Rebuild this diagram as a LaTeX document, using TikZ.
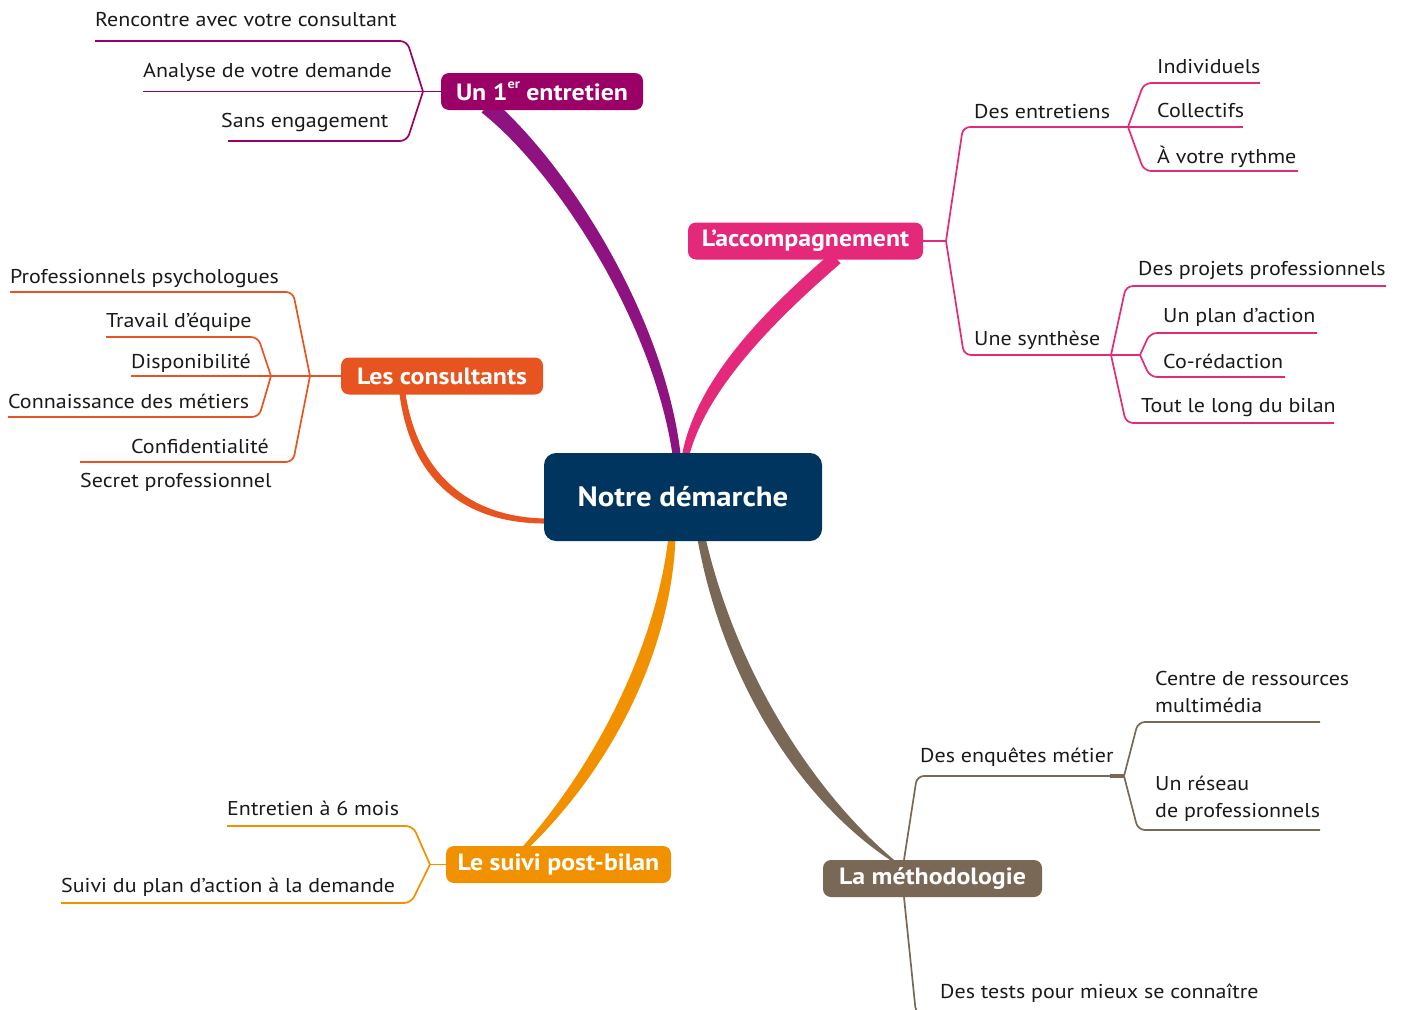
\documentclass[tikz,border=0pt]{standalone}
\usepackage{fontspec}
\setmainfont{PT Sans}[FakeStretch=1.1]
\usetikzlibrary{calc}
\definecolor{cpurple}{HTML}{9B0066}
\definecolor{cpurpleB}{HTML}{8E1280}
\definecolor{cpink}{HTML}{E4287A}
\definecolor{cred}{HTML}{E85420}
\definecolor{cnavy}{HTML}{00355F}
\definecolor{corange}{HTML}{F29100}
\definecolor{cbrown}{HTML}{7A6856}
\definecolor{ctext}{HTML}{1A1A1A}
% tapered branch: colour, P0, C1, C2, P3, half-width at P0, middle, P3
\newcommand{\taperbranch}[8]{%
 \fill[#1] ($#2!#6!90:#3$) .. controls ($#3!#7!90:#4$) and ($#4!#7!-90:#3$) .. ($#5!#8!-90:#4$)
   -- ($#5!#8!90:#4$) .. controls ($#4!#7!90:#3$) and ($#3!#7!-90:#4$) .. ($#2!#6!-90:#3$) -- cycle;}
\begin{document}
\begin{tikzpicture}[x=1pt,y=-1pt,
  leaf/.style={font=\fontsize{20}{27}\selectfont, text=ctext, inner sep=0pt, align=left},
  bnode/.style={rounded corners=8pt, text=white, inner sep=0pt, minimum height=37pt,
     font=\bfseries\fontsize{23.5}{23.5}\selectfont},
  rc/.style={rounded corners=7pt},
  lpur/.style={draw=cpurple, line width=1.7pt},
  lpink/.style={draw=cpink, line width=1.7pt},
  lred/.style={draw=cred, line width=1.7pt},
  lora/.style={draw=corange, line width=1.7pt},
  lbro/.style={draw=cbrown, line width=1.7pt}]
\useasboundingbox (0,0) rectangle (1405,1009);
\clip (0,0) rectangle (1405,1009);

% thick branches
\taperbranch{cpurpleB}{(487,106)}{(562,168)}{(660,320)}{(677,458)}{8.5pt}{6.5pt}{4pt}
\taperbranch{cpink}{(836,258)}{(770,315)}{(700,385)}{(685,458)}{7pt}{7pt}{3.5pt}
\taperbranch{cred}{(402,390)}{(412,470)}{(460,522)}{(550,521)}{3pt}{4.5pt}{2.5pt}
\taperbranch{corange}{(672,536)}{(665,640)}{(610,760)}{(523,850)}{3.5pt}{8pt}{2.5pt}
\taperbranch{cbrown}{(701,536)}{(730,680)}{(810,800)}{(895,862)}{4pt}{8pt}{1pt}

% central and main nodes
\node[rounded corners=12pt, fill=cnavy, text=white, minimum width=278pt, minimum height=88pt,
  inner sep=0pt, font=\bfseries\fontsize{28}{28}\selectfont] (center) at (683,497) {Notre démarche};
\node[bnode, fill=cpurple, minimum width=202pt] (un) at (542,91.5)
  {Un 1\raisebox{0.5em}{\fontsize{13}{13}\selectfont er} entretien};
\node[bnode, fill=cpink, minimum width=235pt] (acc) at (805.5,241) {L’accompagnement};
\node[bnode, fill=cred, minimum width=202pt] (cons) at (442,376) {Les consultants};
\node[bnode, fill=corange, minimum width=225pt] (suivi) at (558.5,864.5) {Le suivi post-bilan};
\node[bnode, fill=cbrown, minimum width=219pt] (meth) at (932.5,878.5) {La méthodologie};

% ---- Un 1er entretien
\coordinate (j1) at (423,91.5);
\draw[lpur] (un.west) -- (j1);
\draw[lpur, rc] (j1) -- (407,41) -- (95,41);
\draw[lpur] (j1) -- (143,91.5);
\draw[lpur, rc] (j1) -- (407,141) -- (228,141);
\node[leaf, anchor=base west] (t11) at (95,27) {Rencontre avec votre consultant};
\node[leaf, anchor=base west] (t12) at (143,77) {Analyse de votre demande};
\node[leaf, anchor=base west] (t13) at (221,127) {Sans engagement};

% ---- L'accompagnement
\coordinate (j2) at (946,241);
\coordinate (j3) at (1128,127);
\coordinate (j4) at (1111,355);
\coordinate (j5) at (1140,355);
\draw[lpink] (acc.east) -- (j2);
\draw[lpink, rc] (j2) -- (963,127) -- (j3);
\draw[lpink, rc] (j2) -- (964,355) -- (j4);
\draw[lpink, rc] (j3) -- (1144,83) -- (1260,83);
\draw[lpink] (j3) -- (1243,127);
\draw[lpink, rc] (j3) -- (1144,171) -- (1298,171);
\draw[lpink, rc] (j4) -- (1126,286) -- (1386,286);
\draw[lpink, rc] (j4) -- (1126,423) -- (1334,423);
\draw[lpink] (j4) -- (j5);
\draw[lpink, rc] (j5) -- (1150,333) -- (1317,333);
\draw[lpink, rc] (j5) -- (1150,377) -- (1285,377);
\node[leaf, anchor=base west] (t21) at (974,118) {Des entretiens};
\node[leaf, anchor=base west] (t22) at (974,345) {Une synthèse};
\node[leaf, anchor=base west] (t23) at (1157,73) {Individuels};
\node[leaf, anchor=base west] (t24) at (1157,117) {Collectifs};
\node[leaf, anchor=base west] (t25) at (1157,163) {À votre rythme};
\node[leaf, anchor=base west] (t26) at (1138,275) {Des projets professionnels};
\node[leaf, anchor=base west] (t27) at (1163,322) {Un plan d’action};
\node[leaf, anchor=base west] (t28) at (1163,368) {Co-rédaction};
\node[leaf, anchor=base west] (t29) at (1141,412) {Tout le long du bilan};

% ---- Les consultants
\coordinate (j6) at (310,376);
\coordinate (j7) at (271,376);
\draw[lred] (cons.west) -- (j6);
\draw[lred, rc] (j6) -- (293,292) -- (10,292);
\draw[lred, rc] (j6) -- (293,462) -- (80,462);
\draw[lred] (j6) -- (j7) -- (131,376);
\draw[lred, rc] (j7) -- (258,337) -- (106,337);
\draw[lred, rc] (j7) -- (259,417) -- (8,417);
\node[leaf, anchor=base west] (t31) at (10,283) {Professionnels psychologues};
\node[leaf, anchor=base west] (t32) at (106,327) {Travail d’équipe};
\node[leaf, anchor=base west] (t33) at (131,368) {Disponibilité};
\node[leaf, anchor=base west] (t34) at (8,408) {Connaissance des métiers};
\node[leaf, anchor=base west] (t35) at (131,453) {Confidentialité};
\node[leaf, anchor=base west] (t36) at (80,487) {Secret professionnel};

% ---- Le suivi post-bilan
\coordinate (j8) at (430,864.5);
\draw[lora] (suivi.west) -- (j8);
\draw[lora, rc] (j8) -- (413,826) -- (227,826);
\draw[lora, rc] (j8) -- (411,903) -- (61,903);
\node[leaf, anchor=base west] (t41) at (227,815) {Entretien à 6 mois};
\node[leaf, anchor=base west] (t42) at (61,892) {Suivi du plan d’action à la demande};

% ---- La méthodologie
\coordinate (j9) at (1124,776);
\draw[lbro, rc] (meth.north -| 904,0) -- (917,776) -- (j9);
\draw[cbrown, line width=3.5pt] (1110,776) -- (j9);
\draw[lbro, rc] (j9) -- (1138,722) -- (1320,722);
\draw[lbro, rc] (j9) -- (1138,830) -- (1320,830);
\draw[lbro, rc] (meth.south -| 904,0) -- (916,1014) -- (1260,1014);
\node[leaf, anchor=base west] (t51) at (920,762) {Des enquêtes métier};
\node[leaf, anchor=base west] (t52) at (1155,712) {Centre de ressources\\multimédia};
\node[leaf, anchor=base west] (t53) at (1155,817) {Un réseau\\de professionnels};
\node[leaf, anchor=base west] (t54) at (940,998) {Des tests pour mieux se connaître};
\end{tikzpicture}
\end{document}
